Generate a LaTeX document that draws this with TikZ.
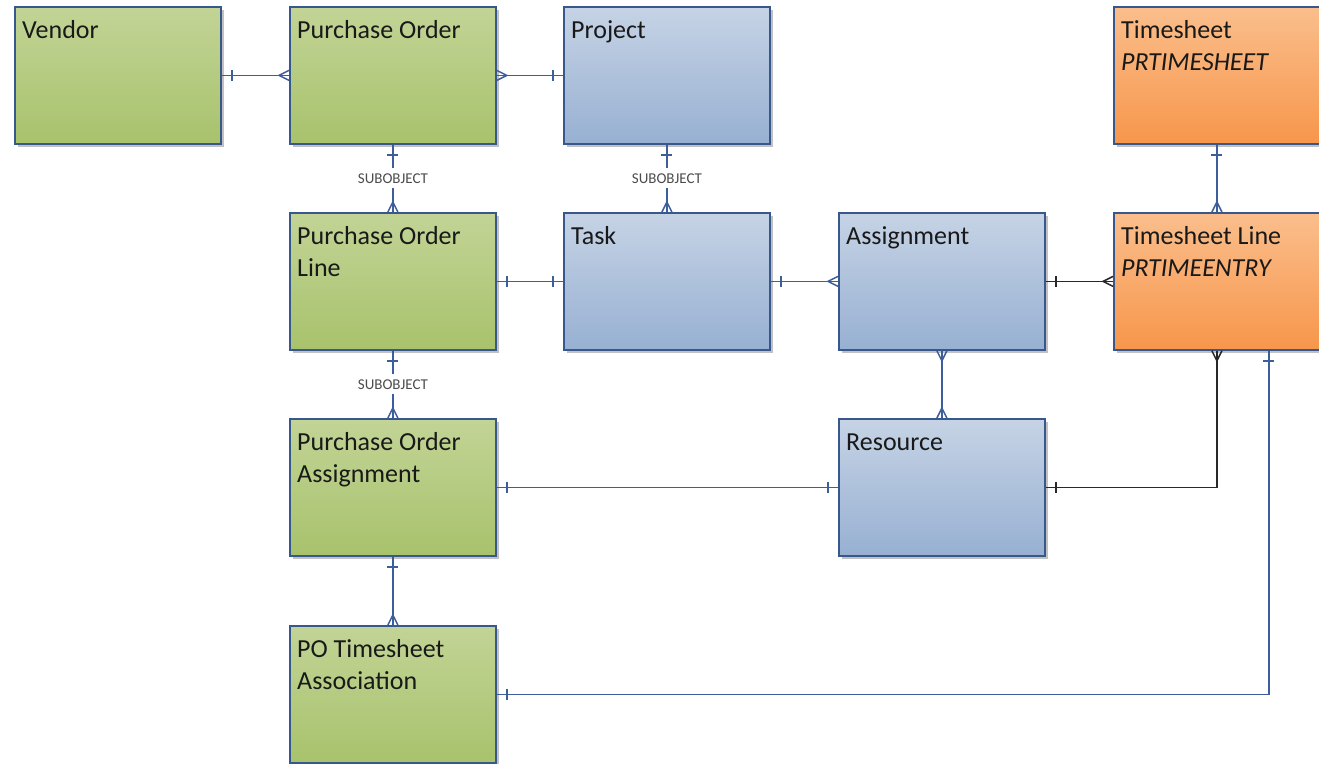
\documentclass[tikz,border=0pt]{standalone}
\usepackage{fontspec}
\setmainfont{Carlito}
\usetikzlibrary{shadows,decorations.markings,calc}
\definecolor{gtop}{RGB}{194,212,150}
\definecolor{gbot}{RGB}{168,194,108}
\definecolor{btop}{RGB}{198,211,229}
\definecolor{bbot}{RGB}{151,176,210}
\definecolor{otop}{RGB}{250,190,140}
\definecolor{obot}{RGB}{247,150,75}
\definecolor{edgec}{RGB}{56,87,140}
\definecolor{lnb}{RGB}{60,95,155}
\definecolor{lnk}{RGB}{40,40,40}
\definecolor{txtc}{RGB}{25,25,25}
\newcommand{\entone}[1]{\hbox{\strut #1}}
\newcommand{\enttwo}[2]{\vtop{\hbox{\strut #1}\hbox{\strut #2}}}
\tikzset{
  ent/.style={draw=edgec, line width=1.8pt, minimum width=206pt, minimum height=137pt,
    inner sep=0pt, anchor=north west,
    drop shadow={shadow xshift=3pt, shadow yshift=-3pt, fill=black!30, opacity=0.8}},
  grn/.style={ent, top color=gtop, bottom color=gbot},
  blu/.style={ent, top color=btop, bottom color=bbot},
  org/.style={ent, top color=otop, bottom color=obot},
  ttl/.style={anchor=north west, inner sep=0pt, xshift=8pt, yshift=-9.6pt,
    text=txtc, font=\fontsize{26}{32}\selectfont},
  cn/.style={color=lnb, line width=1.6pt},
  ck/.style={color=lnk, line width=1.6pt},
  sbar/.style={postaction={decorate, decoration={markings,
    mark=at position 10pt with {\draw[line width=1.5pt] (0,-5.5pt)--(0,5.5pt);}}}},
  ebar/.style={postaction={decorate, decoration={markings,
    mark=at position -10pt with {\draw[line width=1.5pt] (0,-5.5pt)--(0,5.5pt);}}}},
  scrow/.style={postaction={decorate, decoration={markings,
    mark=at position 10pt with {\draw[line width=1.5pt] (-10pt,5pt)--(0,0)--(-10pt,-5pt);}}}},
  ecrow/.style={postaction={decorate, decoration={markings,
    mark=at position -10pt with {\draw[line width=1.5pt] (10pt,5pt)--(0,0)--(10pt,-5pt);}}}},
  sub/.style={fill=white, inner xsep=2pt, inner ysep=5pt, text=black!70,
    font=\fontsize{15}{18}\selectfont}
}
\begin{document}
\begin{tikzpicture}[x=1pt,y=-1pt]
\useasboundingbox (0,0) rectangle (1319,763);
% entities
\node[grn, label={[ttl]north west:{\entone{Vendor}}}] (vendor) at (14,6) {};
\node[grn, label={[ttl]north west:{\entone{Purchase Order}}}] (po) at (289,6) {};
\node[blu, label={[ttl]north west:{\entone{Project}}}] (proj) at (563,6) {};
\node[org, label={[ttl]north west:{\enttwo{Timesheet}{\itshape PRTIMESHEET}}}] (ts) at (1113,6) {};
\node[grn, label={[ttl]north west:{\enttwo{Purchase Order}{Line}}}] (pol) at (289,212) {};
\node[blu, label={[ttl]north west:{\entone{Task}}}] (task) at (563,212) {};
\node[blu, label={[ttl]north west:{\entone{Assignment}}}] (asg) at (838,212) {};
\node[org, label={[ttl]north west:{\enttwo{Timesheet Line}{\itshape PRTIMEENTRY}}}] (tl) at (1113,212) {};
\node[grn, label={[ttl]north west:{\enttwo{Purchase Order}{Assignment}}}] (poa) at (289,418) {};
\node[blu, label={[ttl]north west:{\entone{Resource}}}] (res) at (838,418) {};
\node[grn, label={[ttl]north west:{\enttwo{PO Timesheet}{Association}}}] (potsa) at (289,625) {};
% relations
\draw[cn,sbar,ecrow] (vendor.east) -- (po.west);
\draw[cn,scrow,ebar] (po.east) -- (proj.west);
\draw[cn,sbar,ecrow] (po.south) -- node[sub]{SUBOBJECT} (pol.north);
\draw[cn,sbar,ecrow] (proj.south) -- node[sub]{SUBOBJECT} (task.north);
\draw[cn,sbar,ebar] (pol.east) -- (task.west);
\draw[cn,sbar,ecrow] (task.east) -- (asg.west);
\draw[ck,sbar,ecrow] (asg.east) -- (tl.west);
\draw[cn,sbar,ecrow] (ts.south) -- (tl.north);
\draw[cn,sbar,ecrow] (pol.south) -- node[sub]{SUBOBJECT} (poa.north);
\draw[cn,scrow,ecrow] (asg.south) -- (res.north);
\draw[cn,sbar,ebar] (poa.east) -- (res.west);
\draw[ck,sbar,ecrow] (res.east) -| (tl.south);
\draw[cn,sbar,ecrow] (poa.south) -- (potsa.north);
\coordinate (tlr) at ($(tl.south)!0.5!(tl.south east)$);
\draw[cn,sbar,ebar] (potsa.east) -| (tlr);
\end{tikzpicture}
\end{document}
